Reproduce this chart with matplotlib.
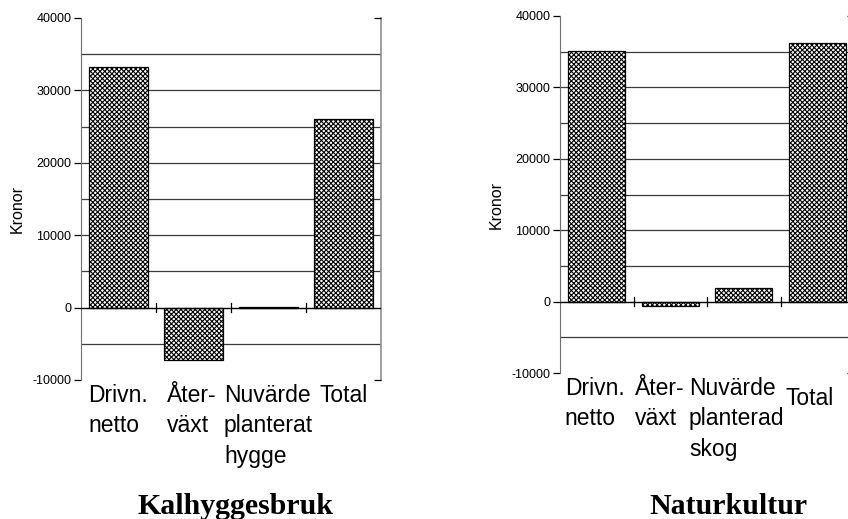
import matplotlib
matplotlib.use("Agg")
import matplotlib.pyplot as plt
from matplotlib.transforms import blended_transform_factory, offset_copy

# Data
cats_left = ["Drivn.\nnetto", "Åter-\nväxt", "Nuvärde\nplanterat\nhygge", "Total"]
vals_left = [33200, -7200, 60, 26000]
cats_right = ["Drivn.\nnetto", "Åter-\nväxt", "Nuvärde\nplanterad\nskog", "Total"]
vals_right = [35100, -600, 1900, 36200]
titles = ["Kalhyggesbruk", "Naturkultur"]
ylabel = "Kronor"
yticks = [-10000, 0, 10000, 20000, 30000, 40000]
grid_vals = [-5000, 5000, 10000, 15000, 20000, 25000, 30000, 35000]

plt.rcParams["font.family"] = ["Liberation Sans", "DejaVu Sans"]
plt.rcParams["hatch.linewidth"] = 0.8

W, H = 848, 519
fig = plt.figure(figsize=(W / 100, H / 100), dpi=100)

# panel layout in pixels: left, top, right, bottom of the plot area
panels = [
    dict(cats=cats_left, vals=vals_left, title=titles[0],
         box=(81, 18, 381, 380), title_x=236, ylab_x=17, ylab_y=209,
         label_off=[(0, 0), (-2, 0), (0, 0), (0, 0)]),
    dict(cats=cats_right, vals=vals_right, title=titles[1],
         box=(560, 16, 854, 373), title_x=728, ylab_x=496, ylab_y=205,
         label_off=[(-2, 0), (-11, 0), (-7, 0), (-8, -10)]),
]

for p in panels:
    x0, y0, x1, y1 = p["box"]
    ax = fig.add_axes([x0 / W, 1 - y1 / H, (x1 - x0) / W, (y1 - y0) / H])
    n = len(p["cats"])
    ax.set_xlim(-0.5, n - 0.5)
    ax.set_ylim(-10000, 40000)

    # gridlines
    for g in grid_vals:
        ax.axhline(g, color="#3a3a3a", lw=0.9, zorder=1)

    ax.bar(range(n), p["vals"], width=0.78, color="white", edgecolor="black",
           hatch="xxxxxxx", lw=0.9, zorder=2)

    # zero line with category separators
    ax.axhline(0, color="black", lw=1.0, zorder=3)
    for b in range(1, n):
        ax.plot([b - 0.5, b - 0.5], [-600, 600], color="black", lw=0.9, zorder=3)

    for side in ["top", "bottom"]:
        ax.spines[side].set_visible(False)
    ax.spines["left"].set_color("#707070")
    ax.spines["right"].set_color("#909090")
    ax.spines["right"].set_linewidth(1.2)

    ax.set_xticks([])
    ax.set_yticks(yticks)
    ax.set_yticklabels([str(t) for t in yticks])
    ax.tick_params(axis="y", direction="out", length=5, width=0.9, pad=2,
                   labelsize=9, colors="black")

    # inward ticks on the right frame at top and bottom
    ax2 = ax.twinx()
    ax2.set_ylim(ax.get_ylim())
    ax2.set_yticks([yticks[0], yticks[-1]])
    ax2.set_yticklabels(["", ""])
    ax2.tick_params(axis="y", direction="in", length=5, width=0.9)
    for s in ax2.spines.values():
        s.set_visible(False)

    # category labels below the plot area
    trans = blended_transform_factory(ax.transData, ax.transAxes)
    for i, (lab, off) in enumerate(zip(p["cats"], p["label_off"])):
        t = offset_copy(trans, fig=fig, x=off[0] * 0.72, y=off[1] * 0.72 - 3,
                        units="points")
        ax.text(i, 0, lab, transform=t, ha="center", va="top",
                multialignment="left", fontsize=16.5, linespacing=1.4)

    fig.text(p["ylab_x"] / W, 1 - p["ylab_y"] / H, ylabel, rotation=90,
             ha="center", va="center", fontsize=11.5)
    fig.text(p["title_x"] / W, 1 - 514 / H, p["title"], ha="center",
             va="baseline", fontsize=21.5, fontweight="bold",
             family=["Liberation Serif", "DejaVu Serif"])

fig.savefig("out.png", dpi=100, facecolor="white")
